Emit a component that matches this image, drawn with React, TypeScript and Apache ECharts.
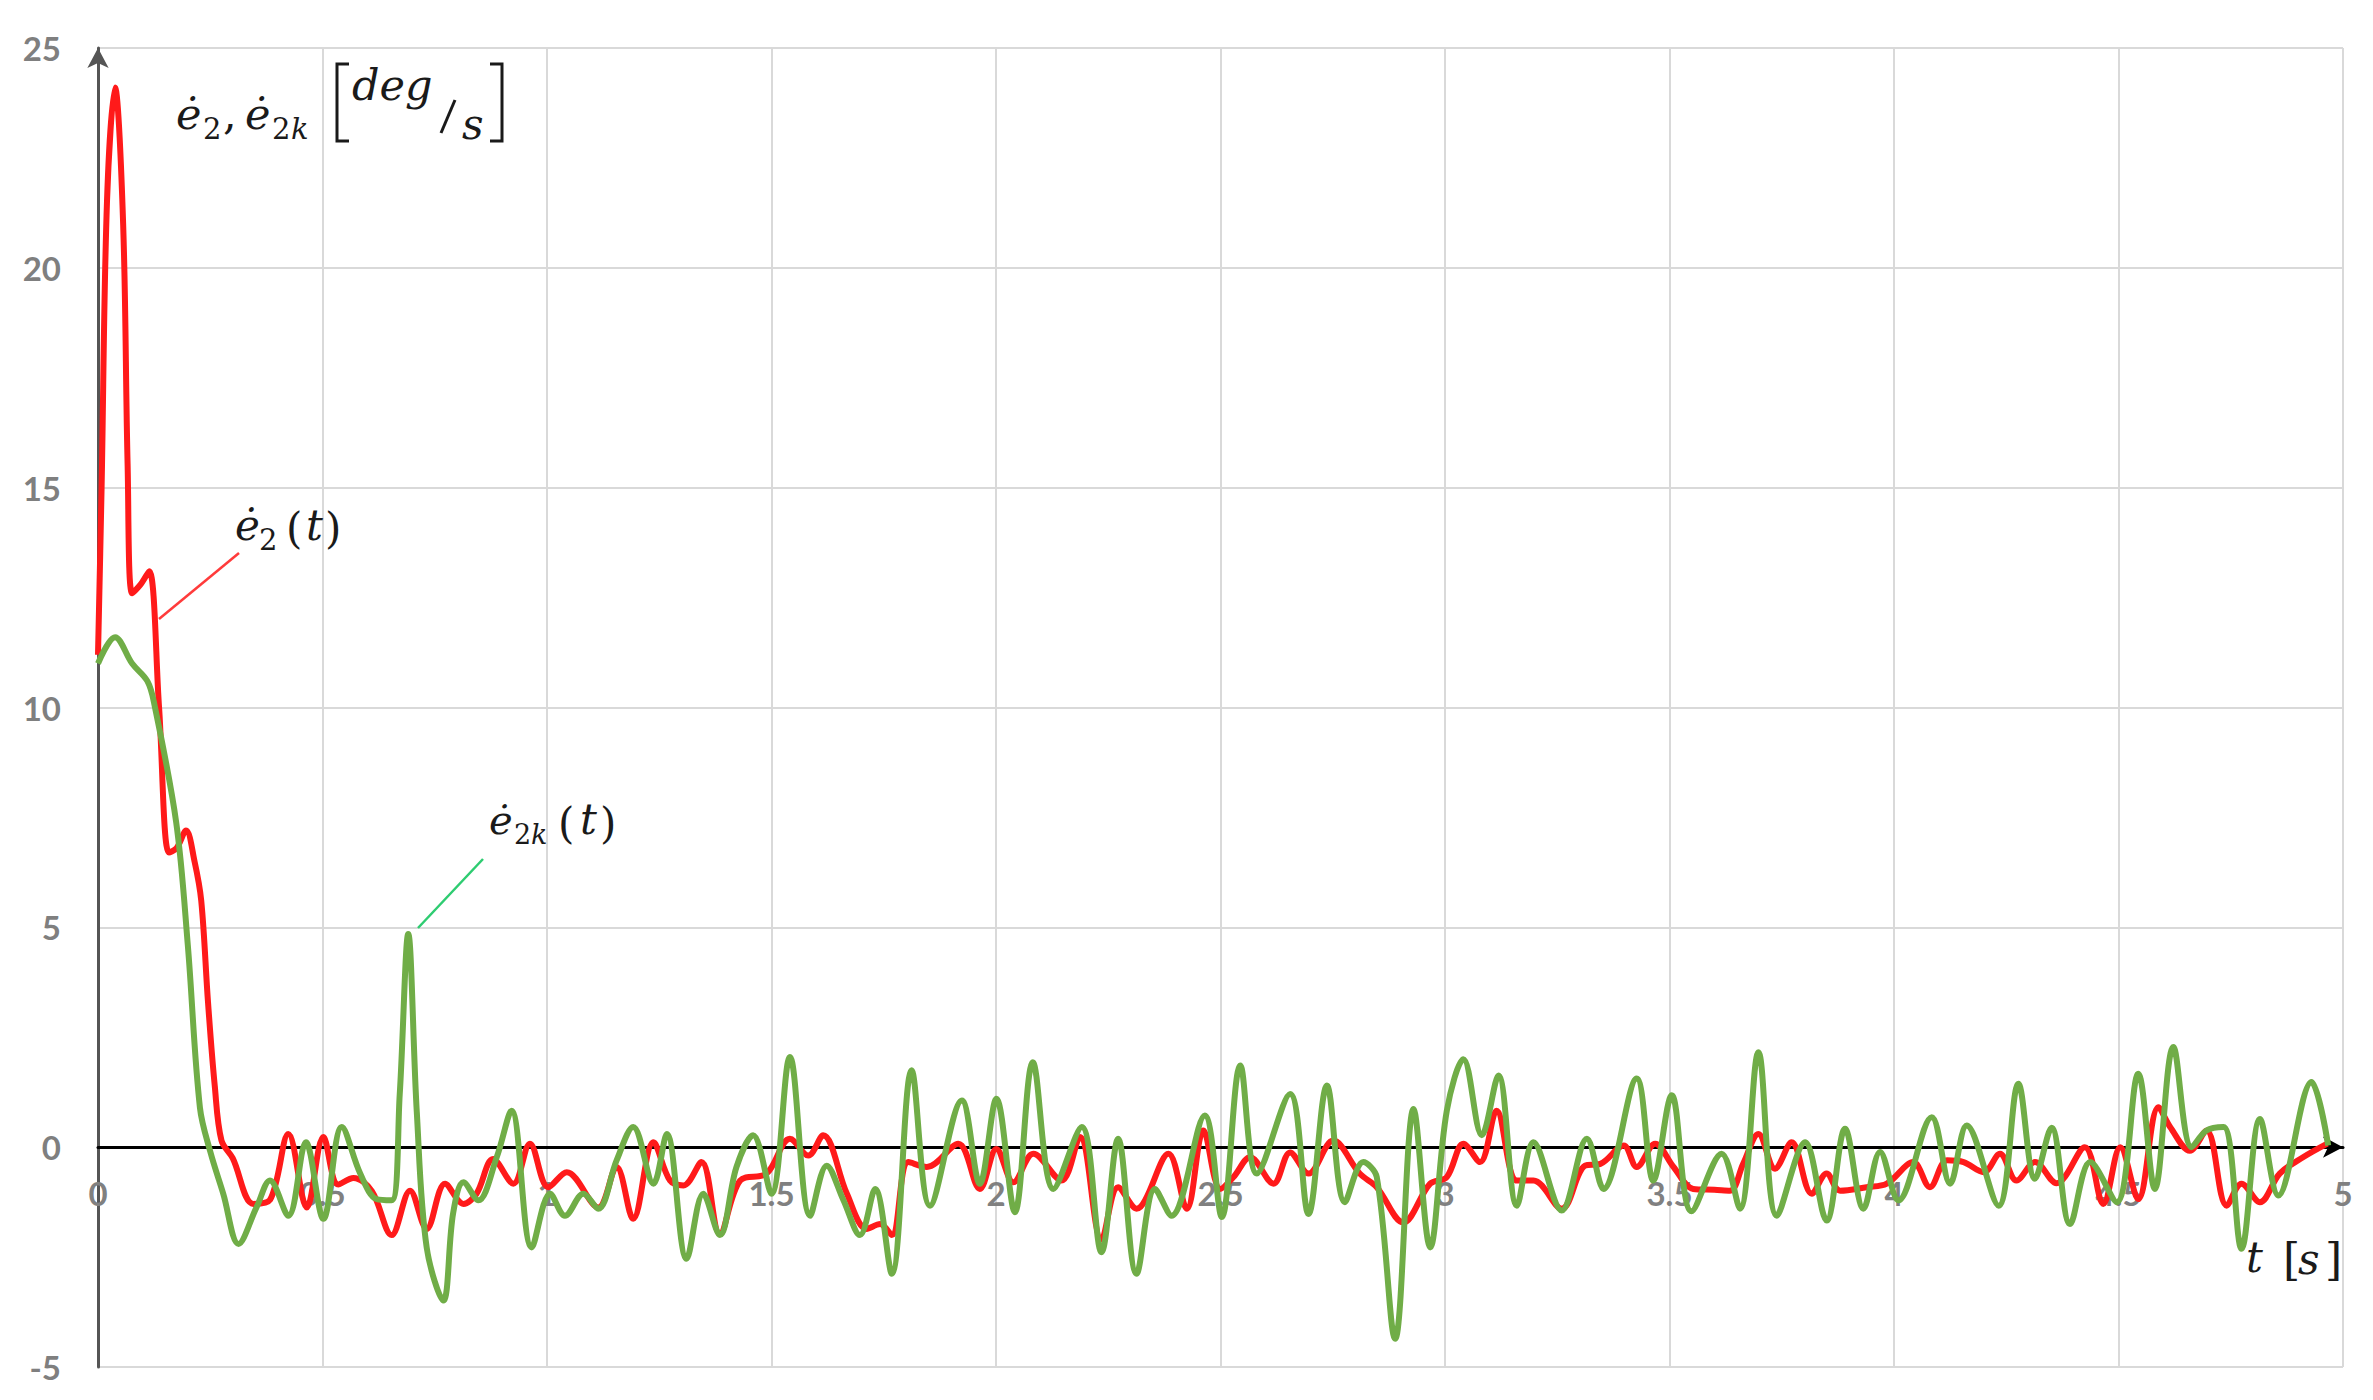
import React, { useEffect, useRef } from "react";
import * as echarts from "echarts";

// time axis ticks
const xMin = 0;
const xMax = 5;
const xStep = 0.5;
const yMin = -5;
const yMax = 25;
const yStep = 5;

// ė2(t) – red
const redT = [0, 0.008, 0.02, 0.038, 0.056, 0.066, 0.076, 0.095, 0.114, 0.136, 0.158, 0.175, 0.196, 0.215, 0.23, 0.245, 0.26, 0.275, 0.3, 0.346, 0.383, 0.424, 0.465, 0.502, 0.535, 0.569, 0.61, 0.654, 0.695, 0.732, 0.773, 0.814, 0.843, 0.88, 0.925, 0.962, 1.003, 1.044, 1.114, 1.155, 1.192, 1.237, 1.274, 1.304, 1.344, 1.385, 1.43, 1.489, 1.541, 1.582, 1.615, 1.668, 1.712, 1.742, 1.768, 1.805, 1.846, 1.916, 1.964, 2.001, 2.039, 2.083, 2.146, 2.187, 2.235, 2.272, 2.313, 2.384, 2.425, 2.462, 2.5, 2.529, 2.566, 2.618, 2.655, 2.696, 2.751, 2.81, 2.848, 2.907, 2.967, 3.004, 3.041, 3.078, 3.115, 3.16, 3.197, 3.26, 3.312, 3.346, 3.398, 3.427, 3.468, 3.509, 3.553, 3.6, 3.635, 3.664, 3.698, 3.735, 3.772, 3.817, 3.85, 3.88, 3.939, 3.984, 4.043, 4.08, 4.118, 4.155, 4.2, 4.236, 4.273, 4.314, 4.362, 4.425, 4.466, 4.504, 4.544, 4.589, 4.615, 4.659, 4.696, 4.741, 4.774, 4.815, 4.859, 4.911, 4.965];
const redV = [11.2, 15, 21.5, 24.1, 21, 15.5, 12.6, 12.8, 13.1, 10.0, 6.7, 6.8, 7.2, 6.5, 5.6, 3.3, 1.4, 0.15, -0.25, -1.29, -1.2, 0.3, -1.37, 0.23, -0.85, -0.7, -1.0, -2.0, -0.99, -1.86, -0.83, -1.29, -1.06, -0.27, -0.83, 0.08, -0.91, -0.57, -1.37, -0.45, -1.63, 0.11, -0.76, -0.87, -0.34, -1.97, -0.76, -0.6, 0.19, -0.19, 0.27, -1.06, -1.86, -1.75, -2.0, -0.34, -0.45, 0.08, -0.95, -0.04, -0.8, -0.15, -0.76, 0.23, -2.1, -0.91, -1.4, -0.15, -1.4, 0.38, -0.95, -0.68, -0.23, -0.83, -0.12, -0.6, 0.15, -0.6, -0.91, -1.71, -0.83, -0.68, 0.08, -0.34, 0.83, -0.76, -0.76, -1.4, -0.42, -0.38, 0.04, -0.45, 0.08, -0.45, -0.95, -0.97, -0.99, -0.38, 0.3, -0.49, 0.11, -1.06, -0.6, -0.99, -0.91, -0.83, -0.34, -0.91, -0.3, -0.34, -0.57, -0.15, -0.76, -0.34, -0.82, 0.0, -1.29, 0.0, -1.18, 0.91, 0.46, -0.08, 0.38, -1.33, -0.83, -1.25, -0.6, -0.23, 0.08];

// ė2k(t) – green
const greenT = [0, 0.038, 0.076, 0.11, 0.125, 0.174, 0.2, 0.227, 0.25, 0.279, 0.313, 0.353, 0.383, 0.424, 0.463, 0.502, 0.543, 0.584, 0.62, 0.654, 0.672, 0.691, 0.71, 0.732, 0.769, 0.791, 0.814, 0.847, 0.888, 0.921, 0.966, 1.007, 1.04, 1.081, 1.114, 1.155, 1.192, 1.237, 1.267, 1.311, 1.348, 1.385, 1.422, 1.459, 1.5, 1.541, 1.586, 1.623, 1.66, 1.697, 1.731, 1.768, 1.812, 1.853, 1.924, 1.964, 2.001, 2.042, 2.082, 2.128, 2.191, 2.235, 2.272, 2.313, 2.354, 2.391, 2.465, 2.503, 2.544, 2.581, 2.655, 2.696, 2.737, 2.777, 2.818, 2.848, 2.889, 2.93, 2.967, 3.004, 3.041, 3.082, 3.119, 3.16, 3.197, 3.26, 3.316, 3.353, 3.427, 3.464, 3.505, 3.549, 3.616, 3.657, 3.698, 3.739, 3.802, 3.85, 3.891, 3.932, 3.969, 4.01, 4.084, 4.125, 4.162, 4.233, 4.277, 4.314, 4.351, 4.392, 4.437, 4.496, 4.544, 4.581, 4.622, 4.663, 4.696, 4.734, 4.774, 4.815, 4.856, 4.93, 4.967];
const greenV = [11.0, 11.6, 11.0, 10.6, 10.1, 7.4, 4.6, 0.9, -0.1, -1.06, -2.2, -1.37, -0.76, -1.56, 0.11, -1.63, 0.46, -0.6, -1.18, -1.21, 1.2, 4.85, 0.8, -2.28, -3.49, -1.5, -0.8, -1.21, -0.23, 0.83, -2.28, -1.06, -1.56, -1.06, -1.4, -0.3, 0.46, -0.83, 0.3, -2.54, -1.06, -2.0, -0.45, 0.27, -1.06, 2.05, -1.56, -0.42, -1.2, -2.0, -0.95, -2.88, 1.75, -1.33, 1.06, -0.83, 1.1, -1.48, 1.93, -0.95, 0.46, -2.39, 0.19, -2.88, -0.95, -1.56, 0.72, -1.59, 1.86, -0.6, 1.21, -1.52, 1.4, -1.25, -0.34, -0.68, -4.36, 0.87, -2.28, 0.83, 2.0, 0.27, 1.63, -1.33, 0.11, -1.44, 0.19, -0.95, 1.56, -0.76, 1.18, -1.46, -0.15, -1.4, 2.16, -1.56, 0.11, -1.67, 0.42, -1.4, -0.11, -1.21, 0.68, -0.83, 0.49, -1.33, 1.44, -0.72, 0.44, -1.75, -0.34, -1.25, 1.67, -0.95, 2.28, 0.0, 0.38, 0.46, -2.31, 0.64, -1.1, 1.48, 0.04];

const SERIF = "DejaVu Serif";
const INK = "#1a1a1a";

const W = 2373;
const H = 1400;
const GRID = { left: 98, right: 30, top: 48, bottom: 33 };

function txt(text: string, x: number, baseline: number, fs: number, italic: boolean) {
  return {
    type: "text",
    x,
    y: baseline - 0.3 * fs,
    z: 100,
    style: {
      text,
      fontSize: fs,
      fontFamily: SERIF,
      fontStyle: italic ? "italic" : "normal",
      fill: INK,
      textAlign: "left",
      textVerticalAlign: "middle",
      align: "left",
      verticalAlign: "middle",
    },
  };
}

function bracket(x0: number, x1: number, top: number, bottom: number) {
  return {
    type: "polyline",
    z: 100,
    shape: { points: [[x0, top], [x1, top], [x1, bottom], [x0, bottom]] },
    style: { stroke: INK, lineWidth: 3, fill: null },
  };
}

export default function App() {
  const ref = useRef<HTMLDivElement>(null);
  useEffect(() => {
    document.body.style.margin = "0";
    const chart = echarts.init(ref.current!, null, { renderer: "svg" });
    const red = redT.map((t, i) => [t, redV[i]]);
    const green = greenT.map((t, i) => [t, greenV[i]]);
    const gridH = H - GRID.top - GRID.bottom;
    // move the time axis (line + labels) up from the grid bottom to y = 0
    const xAxisOffset = -((0 - yMin) / (yMax - yMin)) * gridH;
    chart.setOption({
      animation: false,
      backgroundColor: "#ffffff",
      grid: { ...GRID, containLabel: false },
      xAxis: {
        type: "value",
        position: "bottom",
        offset: xAxisOffset,
        min: xMin,
        max: xMax,
        interval: xStep,
        axisLine: {
          show: true,
          onZero: false,
          symbol: ["none", "arrow"],
          symbolSize: [16, 20],
          lineStyle: { color: "#000000", width: 3 },
        },
        axisTick: { show: false },
        axisLabel: {
          color: "#808080",
          fontSize: 33,
          fontFamily: "Lato",
          fontWeight: "bold",
          margin: 29,
          showMinLabel: true,
          showMaxLabel: true,
        },
        splitLine: { show: true, lineStyle: { color: "#d9d9d9", width: 2 } },
      },
      yAxis: {
        type: "value",
        min: yMin,
        max: yMax,
        interval: yStep,
        axisLine: {
          show: true,
          onZero: false,
          symbol: ["none", "arrow"],
          symbolSize: [16, 20],
          lineStyle: { color: "#555555", width: 3 },
        },
        axisTick: { show: false },
        axisLabel: {
          color: "#7f7f7f",
          fontSize: 33,
          fontFamily: "Lato",
          fontWeight: "bold",
          margin: 37,
        },
        splitLine: { show: true, lineStyle: { color: "#d9d9d9", width: 2 } },
      },
      series: [
        {
          type: "line",
          data: red,
          showSymbol: false,
          smooth: 0.35,
          lineStyle: { color: "#ff1a1a", width: 6 },
          itemStyle: { color: "#ff1a1a" },
          z: 3,
        },
        {
          type: "line",
          data: green,
          showSymbol: false,
          smooth: 0.35,
          lineStyle: { color: "#70ad47", width: 6 },
          itemStyle: { color: "#70ad47" },
          z: 4,
        },
      ],
      graphic: [
        // y-axis title: ė2, ė2k [deg/s]
        txt("ė", 176, 127, 43, true),
        txt("2", 203, 138, 29, false),
        txt(",", 223, 127, 43, false),
        txt("ė", 245, 127, 43, true),
        txt("2", 272, 138, 29, false),
        txt("k", 291, 138, 29, true),
        bracket(349, 337, 64, 141),
        txt("deg", 352, 98, 43, true),
        { type: "line", z: 100, shape: { x1: 441, y1: 133, x2: 455, y2: 100 }, style: { stroke: INK, lineWidth: 3 } },
        txt("s", 462, 137, 42, true),
        bracket(490, 502, 64, 141),
        // ė2(t) label
        txt("ė", 235, 538, 42, true),
        txt("2", 259, 549, 29, false),
        txt("(", 286, 541, 42, false),
        txt("t", 306, 538, 42, true),
        txt(")", 325, 541, 42, false),
        { type: "line", z: 100, shape: { x1: 239, y1: 553, x2: 159, y2: 619 }, style: { stroke: "#ff3b3b", lineWidth: 2.5 } },
        // ė2k(t) label
        txt("ė", 489, 832, 40, true),
        txt("2", 514, 843, 27, false),
        txt("k", 531, 843, 27, true),
        txt("(", 558, 836, 42, false),
        txt("t", 580, 832, 42, true),
        txt(")", 600, 836, 42, false),
        { type: "line", z: 100, shape: { x1: 483, y1: 859, x2: 418, y2: 928 }, style: { stroke: "#2ecc71", lineWidth: 2.5 } },
        // t [s]
        txt("t", 2246, 1270, 42, true),
        txt("[", 2283, 1273, 44, false),
        txt("s", 2298, 1272, 42, true),
        txt("]", 2325, 1273, 44, false),
      ],
    });
    return () => chart.dispose();
  }, []);
  return (
    <div
      ref={ref}
      style={{ position: "absolute", left: 0, top: 0, width: W, height: H, background: "#ffffff" }}
    />
  );
}
